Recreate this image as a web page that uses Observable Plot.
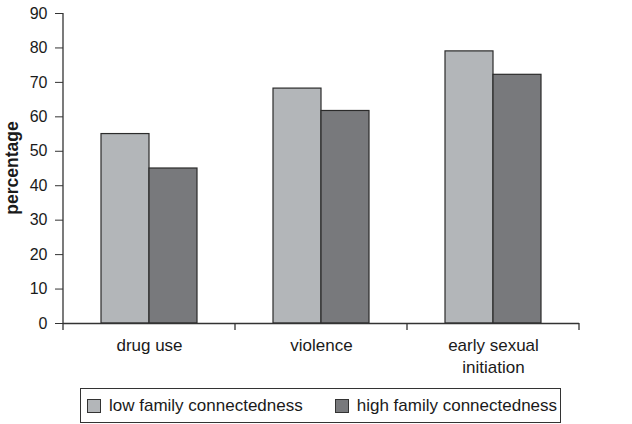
<!DOCTYPE html>
<html><head><meta charset="utf-8">
<script src="https://cdn.jsdelivr.net/npm/d3@7"></script>
<script src="https://cdn.jsdelivr.net/npm/@observablehq/plot@0.6"></script>
<style>
body{margin:0;background:#fff;font-family:"Liberation Sans",Arial,sans-serif;}
#wrap{position:relative;width:632px;height:424px;}
#legend{position:absolute;left:80px;top:388px;width:479px;height:33px;border:1px solid #333;display:flex;align-items:center;font-size:17px;color:#1a1a1a;box-sizing:content-box;}
.item{display:flex;align-items:center;}
.sw{width:12px;height:12px;border:1px solid #333;display:inline-block;margin-right:8px;}
</style></head><body><div id="wrap"><div id="chart"></div><div id="legend"></div></div>
<script>
const categories = ["drug use", "violence", "early sexual initiation"];
const categoryLabels = ["drug use", "violence", "early sexual\ninitiation"];
const series = ["low family connectedness", "high family connectedness"];
const lowValues = [55, 68.2, 79];
const highValues = [45, 61.7, 72.2];
const seriesColors = ["#b3b6b9", "#78797c"];
const yTicks = [0, 10, 20, 30, 40, 50, 60, 70, 80, 90];

const data = categories.flatMap((c, i) => [
  {category: c, series: series[0], value: lowValues[i]},
  {category: c, series: series[1], value: highValues[i]}
]);

const plot = Plot.plot({
  width: 632, height: 385,
  marginLeft: 62, marginRight: 53, marginTop: 13, marginBottom: 62,
  style: {fontFamily: "Liberation Sans, Arial, sans-serif", fontSize: "17px", color: "#1a1a1a", background: "white"},
  fx: {domain: categories, padding: 0, label: null},
  x: {domain: series, paddingInner: 0, paddingOuter: 0.76, axis: null},
  y: {domain: [0, 90], label: null},
  color: {domain: series, range: seriesColors},
  marks: [
    Plot.barY(data, {fx: "category", x: "series", y: "value", fill: "series", stroke: "#2b2b2b", strokeWidth: 1.2, inset: 0}),
    Plot.ruleY([0], {stroke: "#333", strokeWidth: 1.3}),
    Plot.axisY({ticks: yTicks, tickSize: 8, tickPadding: 8, label: null, stroke: "#333", fontSize: 16}),
    Plot.axisFx({anchor: "bottom", tickSize: 0, tickPadding: 12, label: null, fontSize: 17, lineHeight: 1.3,
      tickFormat: c => categoryLabels[categories.indexOf(c)]})
  ]
});

// axis lines and category-boundary ticks from the library's scales
const fx = plot.scale("fx");
const yS = plot.scale("y");
const svg = d3.select(plot);
const y0 = yS.apply(0);
const yTop = yS.apply(90);
const xLeft = fx.apply(categories[0]);
const edges = categories.map(c => fx.apply(c)).concat([fx.apply(categories[categories.length - 1]) + fx.step]);
const g = svg.append("g").attr("stroke", "#333").attr("stroke-width", 1.3);
g.append("line").attr("x1", xLeft).attr("x2", xLeft).attr("y1", yTop).attr("y2", y0);
edges.forEach(x => g.append("line").attr("x1", x).attr("x2", x).attr("y1", y0).attr("y2", y0 + 7));
svg.append("text").attr("transform", `translate(13,${(y0 + yTop) / 2}) rotate(-90)`)
  .attr("text-anchor", "middle").attr("dominant-baseline", "middle")
  .attr("font-weight", "bold").attr("font-size", 17.5).attr("fill", "#1a1a1a").text("percentage");

document.getElementById("chart").appendChild(plot);

const legend = document.getElementById("legend");
series.forEach((s, i) => {
  const item = document.createElement("div");
  item.className = "item";
  item.style.marginLeft = i === 0 ? "6px" : "32px";
  const sw = document.createElement("span");
  sw.className = "sw";
  sw.style.background = seriesColors[i];
  const t = document.createElement("span");
  t.textContent = s;
  item.appendChild(sw); item.appendChild(t);
  legend.appendChild(item);
});
</script></body></html>
